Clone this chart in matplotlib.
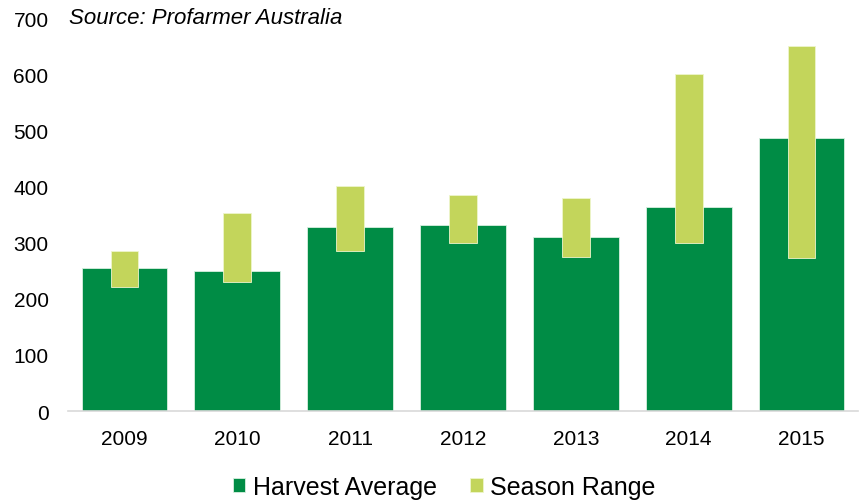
import numpy as np
import matplotlib.pyplot as plt

plt.rcParams['font.family'] = ['Liberation Sans', 'DejaVu Sans']

years = ['2009', '2010', '2011', '2012', '2013', '2014', '2015']
harvest_avg = [255, 250, 328, 332, 310, 364, 486]
range_low = [220, 230, 285, 300, 274, 300, 272]
range_high = [285, 352, 400, 384, 380, 600, 650]

dark = '#008C45'
light = '#C3D55B'

fig = plt.figure(figsize=(8.59, 5.02), dpi=100)
ax = fig.add_axes([68/859, 1-412/502, 790/859, 393/502])

x = np.arange(len(years))
low = np.array(range_low)
high = np.array(range_high)

h1 = ax.bar(x, harvest_avg, width=0.76, color=dark, edgecolor='#d8efe0', linewidth=0.6,
            label='Harvest Average', zorder=2)
h2 = ax.bar(x, high - low, bottom=low, width=0.245, color=light, edgecolor='#eef5cc',
            linewidth=0.6, label='Season Range', zorder=3)

ax.set_xlim(-0.5, 6.5)
ax.set_ylim(0, 700)
ax.set_yticks(range(0, 701, 100))
ax.set_xticks(x)
ax.set_xticklabels(years)
ax.tick_params(axis='both', length=0, labelsize=15)
ax.tick_params(axis='x', pad=13)
ax.tick_params(axis='y', pad=14)
for s in ['top', 'right', 'left']:
    ax.spines[s].set_visible(False)
ax.spines['bottom'].set_color('#d9d9d9')
ax.spines['bottom'].set_linewidth(1.2)

fig.text(69/859, 1-19/502, 'Source: Profarmer Australia', style='italic',
         fontsize=16, va='center', ha='left')

leg = fig.legend(handles=[h1, h2], loc='center', bbox_to_anchor=(0.517, 1-488/502),
                 ncol=2, frameon=False, fontsize=18, handlelength=0.5, handleheight=0.5,
                 handletextpad=0.3, columnspacing=1.35, borderaxespad=0)

fig.savefig('out.png', dpi=100)
